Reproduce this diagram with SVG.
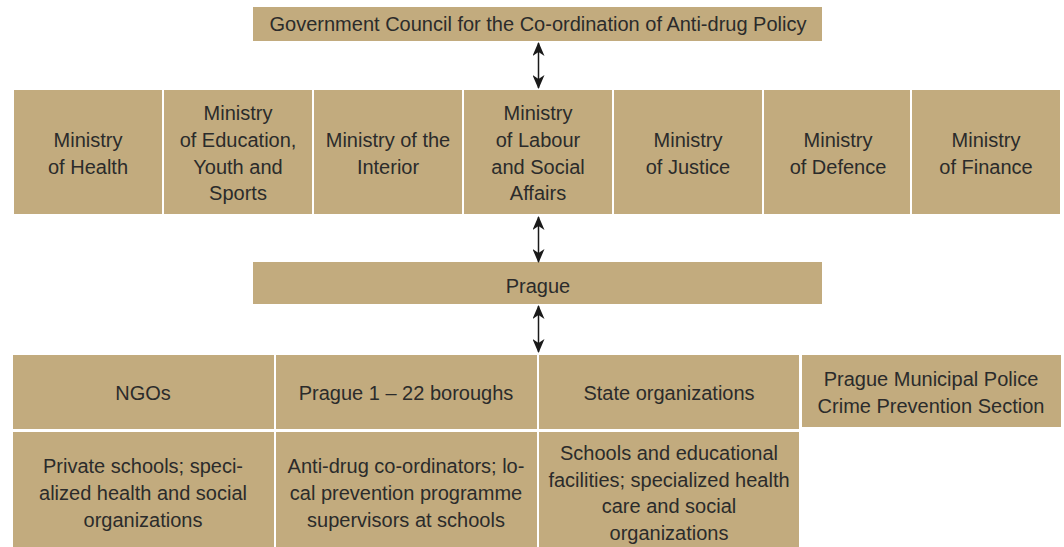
<svg xmlns="http://www.w3.org/2000/svg" width="1064" height="547" viewBox="0 0 1064 547">
<defs>
<style>
.box{fill:#c2ab7e}
text{font-family:"Liberation Sans",Arial,sans-serif;font-size:20px;fill:#2b2b2b;text-anchor:middle}
.conn line{stroke:#1a1a1a;stroke-width:1.5}
</style>
<marker id="ah" viewBox="0 0 14 12" refX="13" refY="6" markerWidth="14" markerHeight="12" markerUnits="userSpaceOnUse" orient="auto-start-reverse">
<path d="M0,0 L14,6 L0,12 L4,6 Z" fill="#1a1a1a"/>
</marker>
</defs>
<rect width="1064" height="547" fill="#fff"/>
<g id="council"><rect class="box" x="253" y="7" width="569" height="34"/><text x="538" y="31">Government Council for the Co-ordination of Anti-drug Policy</text></g>
<g id="m-health"><rect class="box" x="14" y="90" width="148" height="124"/><text x="88" y="147">Ministry</text><text x="88" y="174">of Health</text></g>
<g id="m-education"><rect class="box" x="164" y="90" width="148" height="124"/><text x="238" y="120">Ministry</text><text x="238" y="147">of Education,</text><text x="238" y="174">Youth and</text><text x="238" y="200">Sports</text></g>
<g id="m-interior"><rect class="box" x="314" y="90" width="148" height="124"/><text x="388" y="147">Ministry of the</text><text x="388" y="174">Interior</text></g>
<g id="m-labour"><rect class="box" x="464" y="90" width="148" height="124"/><text x="538" y="120">Ministry</text><text x="538" y="147">of Labour</text><text x="538" y="174">and Social</text><text x="538" y="200">Affairs</text></g>
<g id="m-justice"><rect class="box" x="614" y="90" width="148" height="124"/><text x="688" y="147">Ministry</text><text x="688" y="174">of Justice</text></g>
<g id="m-defence"><rect class="box" x="764" y="90" width="146" height="124"/><text x="838" y="147">Ministry</text><text x="838" y="174">of Defence</text></g>
<g id="m-finance"><rect class="box" x="912" y="90" width="148" height="124"/><text x="986" y="147">Ministry</text><text x="986" y="174">of Finance</text></g>
<g id="prague"><rect class="box" x="253" y="262" width="569" height="42"/><text x="538" y="293">Prague</text></g>
<g id="ngos"><rect class="box" x="13" y="355" width="261" height="74"/><text x="143" y="400">NGOs</text></g>
<g id="boroughs"><rect class="box" x="276" y="355" width="261" height="74"/><text x="406" y="400">Prague 1 – 22 boroughs</text></g>
<g id="state"><rect class="box" x="539" y="355" width="260" height="74"/><text x="669" y="400">State organizations</text></g>
<g id="police"><rect class="box" x="802" y="355" width="259" height="72"/><text x="931" y="386">Prague Municipal Police</text><text x="931" y="413">Crime Prevention Section</text></g>
<g id="ngos-detail"><rect class="box" x="13" y="432" width="261" height="115"/><text x="143" y="473">Private schools; speci-</text><text x="143" y="500">alized health and social</text><text x="143" y="527">organizations</text></g>
<g id="boroughs-detail"><rect class="box" x="276" y="432" width="261" height="115"/><text x="406" y="473">Anti-drug co-ordinators; lo-</text><text x="406" y="500">cal prevention programme</text><text x="406" y="527">supervisors at schools</text></g>
<g id="state-detail"><rect class="box" x="539" y="432" width="260" height="115"/><text x="669" y="460">Schools and educational</text><text x="669" y="487">facilities; specialized health</text><text x="669" y="513">care and social</text><text x="669" y="540">organizations</text></g>
<g class="conn" id="connectors">
<line x1="538.5" y1="43" x2="538.5" y2="88" marker-start="url(#ah)" marker-end="url(#ah)"/>
<line x1="538.5" y1="217" x2="538.5" y2="262" marker-start="url(#ah)" marker-end="url(#ah)"/>
<line x1="538.5" y1="306" x2="538.5" y2="352" marker-start="url(#ah)" marker-end="url(#ah)"/>
</g>
</svg>
